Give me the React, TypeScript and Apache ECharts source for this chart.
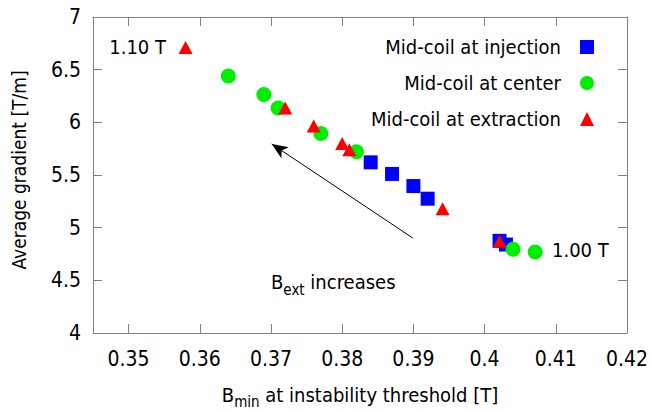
import React, { useEffect, useRef } from "react";
import * as echarts from "echarts";

// Data
const injection: number[][] = [
  [0.384, 5.62], [0.387, 5.51], [0.390, 5.395], [0.392, 5.275], [0.4021, 4.875], [0.403, 4.84],
];
const center: number[][] = [
  [0.364, 6.44], [0.369, 6.265], [0.371, 6.135], [0.377, 5.895], [0.382, 5.72], [0.404, 4.795], [0.4071, 4.77],
];
const extraction: number[][] = [
  [0.358, 6.71], [0.372, 6.135], [0.376, 5.965], [0.380, 5.80], [0.381, 5.74], [0.3941, 5.18], [0.4021, 4.87],
];
const seriesNames = ["Mid-coil at injection", "Mid-coil at center", "Mid-coil at extraction"];
const xTicks = [0.35, 0.36, 0.37, 0.38, 0.39, 0.40, 0.41, 0.42];
const arrowFrom = [0.3899, 4.902];
const arrowTo = [0.3701, 5.795];

const FONT = "'DejaVu Sans Condensed', 'Noto Sans', sans-serif";
const AXIS = "#808080";

export default function App() {
  const ref = useRef<HTMLDivElement>(null);
  useEffect(() => {
    if (!ref.current) return;
    document.body.style.margin = "0";
    const chart = echarts.init(ref.current, undefined, { renderer: "svg" });
    const axisCommonX = {
      type: "value" as const,
      min: 0.345,
      max: 0.42,
      splitLine: { show: false },
      axisLine: { show: true, onZero: false, lineStyle: { color: AXIS, width: 1 } },
      axisTick: { show: true, inside: true, length: 9, customValues: xTicks, lineStyle: { color: AXIS } },
    };
    const axisCommonY = {
      type: "value" as const,
      min: 4,
      max: 7,
      interval: 0.5,
      splitLine: { show: false },
      axisLine: { show: true, onZero: false, lineStyle: { color: AXIS, width: 1 } },
      axisTick: { show: true, inside: true, length: 9, lineStyle: { color: AXIS } },
    };
    chart.setOption({
      animation: false,
      backgroundColor: "#fff",
      grid: { left: 93, right: 25, top: 17, bottom: 77, containLabel: false, outerBoundsMode: "none" },
      legend: {
        data: seriesNames,
        orient: "vertical",
        align: "right",
        right: 53,
        top: 32,
        itemWidth: 14,
        itemHeight: 14,
        itemGap: 16,
        selectedMode: false,
        textStyle: { fontFamily: FONT, fontSize: 20, color: "#000", padding: [0, 14, 0, 0] },
      },
      xAxis: [
        {
          ...axisCommonX,
          position: "bottom",
          axisLabel: {
            customValues: xTicks,
            formatter: (v: number) => String(+v.toFixed(2)),
            color: "#000",
            fontFamily: FONT,
            fontSize: 21,
            margin: 15,
            showMaxLabel: true,
          },
          name: "{b|B}{s|min}{b| at instability threshold [T]}",
          nameLocation: "middle",
          nameGap: 47,
          nameMoveOverlap: false,
          nameTextStyle: {
            rich: {
              b: { fontFamily: FONT, fontSize: 20, color: "#000" },
              s: { fontFamily: FONT, fontSize: 15, color: "#000", padding: [14, 0, 0, 0] },
            },
          },
        },
        { ...axisCommonX, position: "top", axisLabel: { show: false } },
      ],
      yAxis: [
        {
          ...axisCommonY,
          position: "left",
          axisLabel: { color: "#000", fontFamily: FONT, fontSize: 21, margin: 12 },
        },
        { ...axisCommonY, position: "right", axisLabel: { show: false } },
      ],
      series: [
        {
          name: seriesNames[0],
          type: "scatter",
          symbol: "rect",
          symbolSize: 14,
          itemStyle: { color: "#0000ff", opacity: 1 },
          data: injection,
          silent: true,
        },
        {
          name: seriesNames[1],
          type: "scatter",
          symbol: "circle",
          symbolSize: 15,
          itemStyle: { color: "#00ee00", opacity: 1 },
          data: center,
          silent: true,
        },
        {
          name: seriesNames[2],
          type: "scatter",
          symbol: "triangle",
          symbolSize: [14, 13],
          itemStyle: { color: "#ff0000", opacity: 1 },
          data: extraction,
          silent: true,
          markLine: {
            silent: true,
            animation: false,
            label: { show: false },
            lineStyle: { color: "#000", width: 1, type: "solid" },
            data: [
              [
                { coord: arrowFrom, symbol: "none" },
                { coord: arrowTo, symbol: "arrow", symbolSize: [10, 16] },
              ],
            ],
          },
        },
      ],
      graphic: [
        {
          type: "text",
          x: 19,
          y: 170,
          rotation: Math.PI / 2,
          style: {
            text: "Average gradient [T/m]",
            fill: "#000",
            font: `19px ${FONT}`,
            align: "center",
            verticalAlign: "middle",
          },
        },
        {
          type: "text",
          x: 166,
          y: 47,
          style: { text: "1.10 T", fill: "#000", font: `20px ${FONT}`, align: "right", verticalAlign: "middle" },
        },
        {
          type: "text",
          x: 552,
          y: 250,
          style: { text: "1.00 T", fill: "#000", font: `20px ${FONT}`, align: "left", verticalAlign: "middle" },
        },
        {
          type: "text",
          x: 271,
          y: 282,
          style: {
            text: "{b|B}{s|ext}{b| increases}",
            align: "left",
            verticalAlign: "middle",
            rich: {
              b: { fontFamily: FONT, fontSize: 20, fill: "#000", color: "#000" },
              s: { fontFamily: FONT, fontSize: 15, fill: "#000", color: "#000", padding: [16, 0, 0, 0] },
            },
          },
        },
      ],
    });
    return () => chart.dispose();
  }, []);
  return <div ref={ref} style={{ width: 652, height: 410 }} />;
}
